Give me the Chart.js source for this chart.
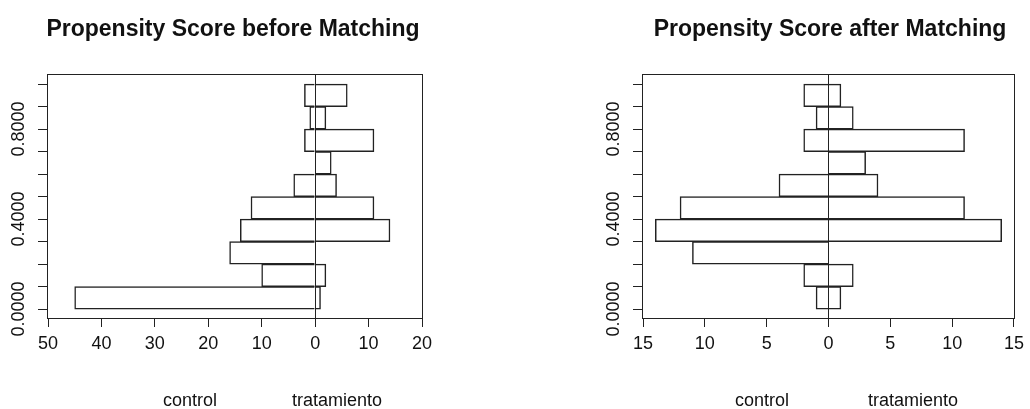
<!DOCTYPE html>
<html>
<head>
<meta charset="utf-8">
<script src="https://cdn.jsdelivr.net/npm/chart.js@4.4.1/dist/chart.umd.min.js"></script>
<style>
  html, body { margin: 0; padding: 0; background: #fff; }
  body { width: 1030px; height: 409px; position: relative; overflow: hidden; font-family: "Liberation Sans", Arial, sans-serif; color: #111; }
  .panel { position: absolute; top: 0; width: 515px; height: 409px; }
  .titulo { position: absolute; top: 17px; font-size: 23px; line-height: 23px; font-weight: bold; white-space: nowrap; transform: translateX(-50%); }
  .etiqueta { position: absolute; top: 391px; font-size: 18px; line-height: 18px; white-space: nowrap; transform: translateX(-50%); }
</style>
</head>
<body>
<div class="panel" style="left:0"><canvas id="antes" width="515" height="409"></canvas></div>
<div class="panel" style="left:515px"><canvas id="despues" width="515" height="409"></canvas></div>

<div class="titulo" style="left:233px">Propensity Score before Matching</div>
<div class="titulo" style="left:830px">Propensity Score after Matching</div>
<div class="etiqueta" style="left:190px">control</div>
<div class="etiqueta" style="left:337px">tratamiento</div>
<div class="etiqueta" style="left:762px">control</div>
<div class="etiqueta" style="left:913px">tratamiento</div>

<script>
// centros de los intervalos del propensity score (de abajo hacia arriba)
const binMids = [0.05, 0.15, 0.25, 0.35, 0.45, 0.55, 0.65, 0.75, 0.85, 0.95];

const antesControl = [45, 10, 16, 14, 12, 4, 0, 2, 1, 2];
const antesTratamiento = [1, 2, 0, 14, 11, 4, 3, 11, 2, 6];
const despuesControl = [1, 2, 11, 14, 12, 4, 0, 2, 1, 2];
const despuesTratamiento = [1, 2, 0, 14, 11, 4, 3, 11, 2, 1];

const yTicks = [0, 0.1, 0.2, 0.3, 0.4, 0.5, 0.6, 0.7, 0.8, 0.9, 1.0];
const yTickLabels = ['0.0000', '', '', '', '0.4000', '', '', '', '0.8000', '', ''];
const antesXTicks = [-50, -40, -30, -20, -10, 0, 10, 20];
const despuesXTicks = [-15, -10, -5, 0, 5, 10, 15];

const LINEA = '#222';
const FUENTE = 'Liberation Sans, Arial, sans-serif';

const marco = {
    id: 'marco',
    afterDraw(chart) {
        const { ctx, chartArea: a } = chart;
        ctx.save();
        ctx.strokeStyle = LINEA;
        ctx.lineWidth = 1;
        ctx.strokeRect(Math.round(a.left) - 0.5, Math.round(a.top) - 0.5,
            Math.round(a.right - a.left) + 1, Math.round(a.bottom - a.top) + 1);
        ctx.restore();
    }
};

function crearGrafico(id, control, tratamiento, xTicks, padLeft, padRight) {
    const barras = {
        backgroundColor: 'rgba(0,0,0,0)',
        borderColor: LINEA,
        borderWidth: 0.75,
        inflateAmount: 0.375,
        borderSkipped: 'start',
        barPercentage: 1,
        categoryPercentage: 1
    };

    new Chart(document.getElementById(id), {
        type: 'bar',
        data: {
            datasets: [
                { label: 'control', data: binMids.map((y, i) => ({ x: -control[i], y })), ...barras },
                { label: 'tratamiento', data: binMids.map((y, i) => ({ x: tratamiento[i], y })), ...barras }
            ]
        },
        options: {
            indexAxis: 'y',
            responsive: false,
            animation: false,
            events: [],
            layout: { padding: { left: padLeft, right: padRight, top: 75, bottom: 0 } },
            plugins: { legend: { display: false }, tooltip: { enabled: false }, title: { display: false } },
            scales: {
                x: {
                    type: 'linear',
                    stacked: true,
                    min: xTicks[0],
                    max: xTicks[xTicks.length - 1],
                    afterBuildTicks: s => { s.ticks = xTicks.map(v => ({ value: v })); },
                    afterFit: s => { s.height = 91; },
                    border: { display: false },
                    grid: {
                        color: c => (c.tick && c.tick.value === 0 ? LINEA : 'rgba(0,0,0,0)'),
                        tickColor: LINEA,
                        tickLength: 9,
                        lineWidth: 1
                    },
                    ticks: {
                        autoSkip: false,
                        maxRotation: 0,
                        padding: 6,
                        color: '#111',
                        font: { family: FUENTE, size: 18 },
                        callback: v => String(Math.abs(v))
                    }
                },
                y: {
                    type: 'linear',
                    stacked: true,
                    offset: false,
                    min: -0.04,
                    max: 1.04,
                    afterBuildTicks: s => { s.ticks = yTicks.map(v => ({ value: v })); },
                    afterFit: s => { s.width = 48; },
                    border: { display: false },
                    grid: { offset: false, drawOnChartArea: false, tickColor: LINEA, tickLength: 10 },
                    ticks: {
                        autoSkip: false,
                        minRotation: 90,
                        maxRotation: 90,
                        crossAlign: 'center',
                        padding: -9,
                        color: '#111',
                        font: { family: FUENTE, size: 18 },
                        callback: (v, i) => yTickLabels[i]
                    }
                }
            }
        },
        plugins: [marco]
    });
}

crearGrafico('antes', antesControl, antesTratamiento, antesXTicks, 0, 93);
crearGrafico('despues', despuesControl, despuesTratamiento, despuesXTicks, 80, 12);
</script>
</body>
</html>
